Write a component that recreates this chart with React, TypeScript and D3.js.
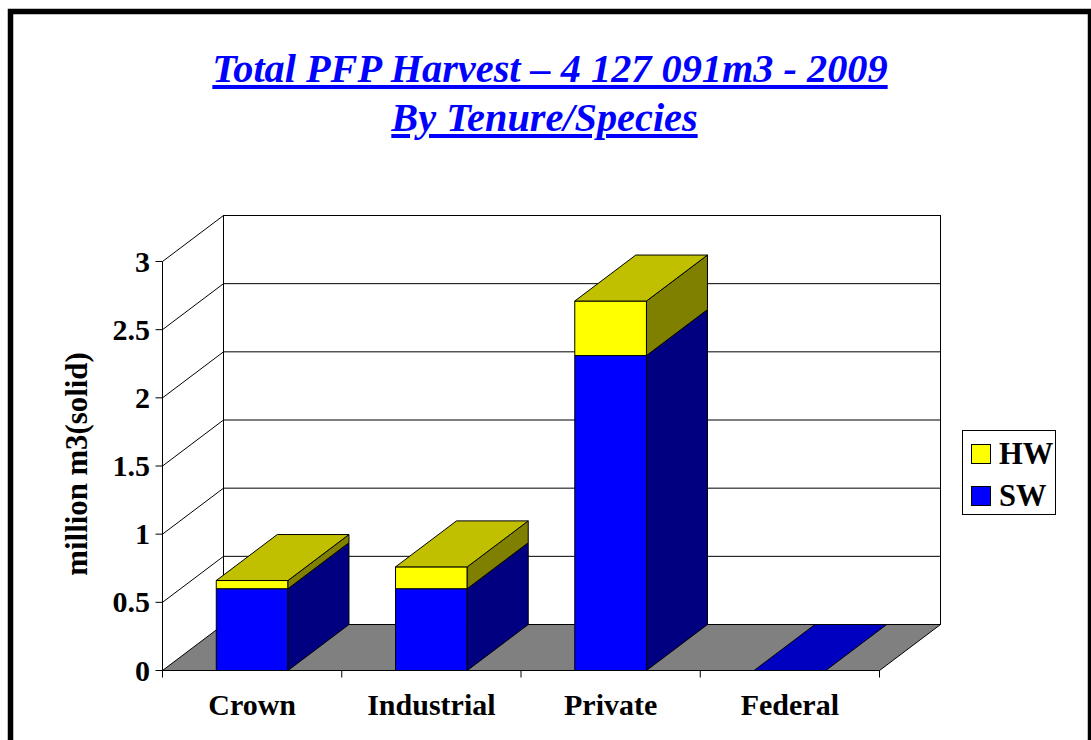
import React from 'react';
import * as d3 from 'd3';

const categories = ['Crown', 'Industrial', 'Private', 'Federal'];
const seriesNames = ['SW', 'HW'];
const swValues = [0.6, 0.6, 2.31, 0];
const hwValues = [0.06, 0.16, 0.4, 0];
const yTicks = [0, 0.5, 1, 1.5, 2, 2.5, 3];
const titleLines = ['Total PFP Harvest \u2013 4 127 091m3 - 2009', 'By Tenure/Species'];
const yTitle = 'million m3(solid)';

const colors: Record<string, { front: string; top: string; side: string }> = {
  SW: { front: '#0000ff', top: '#0000c0', side: '#000080' },
  HW: { front: '#ffff00', top: '#c0c000', side: '#808000' },
};

const serif = '"Liberation Serif", "Times New Roman", serif';
const depthX = 61;
const depthY = 46;

const x = d3.scaleBand<string>().domain(categories).range([162.5, 879.5]).paddingInner(0.6).paddingOuter(0.3);
const y = d3.scaleLinear().domain([0, 3]).range([670.5, 261.5]);

const rows = categories.map((c, i) => ({ category: c, SW: swValues[i], HW: hwValues[i] }));
const stacked = d3.stack<any>().keys(seriesNames)(rows);
const poly = d3.line<[number, number]>();

const [x0, x1] = x.range();
const y0 = y(0);
const yTop = y(3);

function Bars() {
  return (
    <g stroke="#000" strokeWidth={1} strokeLinejoin="round">
      {categories.map((c, i) => {
        const left = x(c) as number;
        const right = left + x.bandwidth();
        const visible = stacked.filter(s => s[i][1] > s[i][0]);
        const topSeries = visible.length ? visible[visible.length - 1] : stacked[0];
        const topY = y(topSeries[i][1]);
        return (
          <g key={c}>
            {visible.map(s => {
              const a = y(s[i][0]);
              const b = y(s[i][1]);
              return (
                <g key={s.key}>
                  <path fill={colors[s.key].front} d={poly([[left, a], [right, a], [right, b], [left, b]]) + 'Z'} />
                  <path
                    fill={colors[s.key].side}
                    d={poly([[right, a], [right + depthX, a - depthY], [right + depthX, b - depthY], [right, b]]) + 'Z'}
                  />
                </g>
              );
            })}
            <path
              fill={colors[topSeries.key].top}
              d={poly([[left, topY], [right, topY], [right + depthX, topY - depthY], [left + depthX, topY - depthY]]) + 'Z'}
            />
          </g>
        );
      })}
    </g>
  );
}

export default function App() {
  return (
    <div style={{ position: 'absolute', left: 0, top: 0 }}>
      <svg width={1091} height={740} style={{ display: 'block', background: '#fff' }} fontFamily={serif}>
        {/* slide frame, runs off the bottom */}
        <rect x={10.5} y={11.5} width={1080} height={800} fill="none" stroke="#000" strokeWidth={5.5} />

        {titleLines.map((t, i) => (
          <text
            key={t}
            x={i === 0 ? 550 : 544.5}
            y={82 + i * 49}
            textAnchor="middle"
            fontSize={40.3}
            fontWeight="bold"
            fontStyle="italic"
            fill="#0000ff"
            textDecoration="underline"
          >
            {t}
          </text>
        ))}

        {/* walls */}
        <g fill="none" stroke="#000" strokeWidth={1}>
          <rect x={x0 + depthX} y={yTop - depthY} width={x1 - x0} height={y0 - yTop} />
          {yTicks.slice(1, -1).map(t => (
            <line key={t} x1={x0 + depthX} x2={x1 + depthX} y1={y(t) - depthY} y2={y(t) - depthY} />
          ))}
          {yTicks.slice(1).map(t => (
            <line key={t} x1={x0} x2={x0 + depthX} y1={y(t)} y2={y(t) - depthY} />
          ))}
          <line x1={x0} x2={x0} y1={yTop} y2={y0} />
        </g>

        {/* floor */}
        <path
          fill="#808080"
          stroke="#000"
          d={poly([[x0, y0], [x1, y0], [x1 + depthX, y0 - depthY], [x0 + depthX, y0 - depthY]]) + 'Z'}
        />

        <Bars />

        {/* y axis */}
        {yTicks.map(t => (
          <g key={t}>
            <line x1={x0 - 7} x2={x0} y1={y(t)} y2={y(t)} stroke="#000" />
            <text x={150} y={y(t) + 10} textAnchor="end" fontSize={30} fontWeight="bold" fill="#000">
              {d3.format('~g')(t)}
            </text>
          </g>
        ))}
        <text
          transform="translate(87,464) rotate(-90)"
          textAnchor="middle"
          fontSize={30.8}
          fontWeight="bold"
          fill="#000"
        >
          {yTitle}
        </text>

        {/* x axis */}
        {categories.map((c, i) => {
          const tick = x0 + x.step() * (i + 1);
          return (
            <g key={c}>
              <line x1={tick} x2={tick} y1={y0} y2={y0 + 7} stroke="#000" />
              <text
                x={(x(c) as number) + x.bandwidth() / 2}
                y={714.5}
                textAnchor="middle"
                fontSize={30}
                fontWeight="bold"
                fill="#000"
              >
                {c}
              </text>
            </g>
          );
        })}
        <line x1={x0} x2={x0} y1={y0} y2={y0 + 7} stroke="#000" />

        {/* legend */}
        <rect x={962.5} y={430.5} width={93} height={84} fill="#fff" stroke="#000" />
        {[...seriesNames].reverse().map((s, i) => (
          <g key={s}>
            <rect x={971.5} y={444.5 + i * 42} width={19} height={19} fill={colors[s].front} stroke="#000" />
            <text x={999} y={464 + i * 42} fontSize={30.5} fontWeight="bold" fill="#000">
              {s}
            </text>
          </g>
        ))}
      </svg>
    </div>
  );
}
